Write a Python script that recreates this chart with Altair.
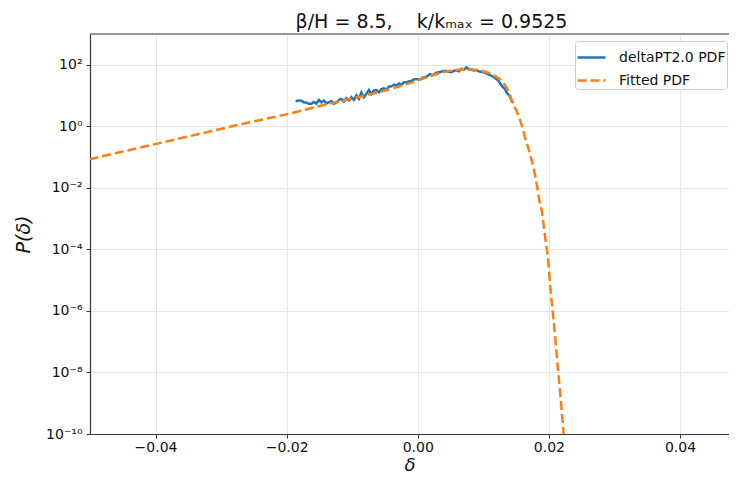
import math
import altair as alt
import pandas as pd

# --- data ---
sim_delta = [-0.01863, -0.01820, -0.01776, -0.01738, -0.01699, -0.01661, -0.01623, -0.01585,
             -0.01547, -0.01508, -0.01470, -0.01432, -0.01394, -0.01356, -0.01318, -0.01280,
             -0.01241, -0.01203, -0.01165, -0.01127, -0.01089, -0.01050, -0.01012, -0.00974,
             -0.00936, -0.00898, -0.00860, -0.00822, -0.00783, -0.00745, -0.00707, -0.00669,
             -0.00631, -0.00592, -0.00554, -0.00516, -0.00478, -0.00440, -0.00402, -0.00363,
             -0.00325, -0.00287, -0.00249, -0.00211, -0.00173, -0.00134, -0.00096, -0.00058,
             -0.00020, 0.00031, 0.00082, 0.00133, 0.00183, 0.00234, 0.00285, 0.00336,
             0.00387, 0.00438, 0.00477, 0.00515, 0.00553, 0.00591, 0.00629, 0.00667,
             0.00705, 0.00743, 0.00782, 0.00820, 0.00858, 0.00896, 0.00934, 0.00972,
             0.01023, 0.01073, 0.01125, 0.01176, 0.01214, 0.01252, 0.01290, 0.01328,
             0.01367, 0.01405, 0.01430, 0.01455]
sim_pdf = [6.5, 6.9, 6.8, 6.0, 5.9, 5.4, 5.4, 6.2,
           5.5, 7.2, 6.0, 6.8, 5.6, 6.0, 6.6, 5.4,
           5.9, 7.2, 7.8, 6.4, 8.2, 6.9, 8.8, 7.2,
           10.2, 7.8, 12.6, 8.8, 11.4, 15.2, 11.2, 14.6,
           15.0, 12.8, 16.2, 17.2, 15.6, 19.4, 20.0, 22.5,
           21.5, 24.6, 22.4, 26.8, 27.2, 28.6, 29.9, 33.5,
           34.0, 33.0, 38.5, 40.5, 49.5, 46.5, 55.5, 58.0,
           61.5, 63.0, 59.0, 57.0, 64.5, 66.0, 61.5, 74.0,
           69.5, 82.0, 71.0, 69.0, 65.0, 67.0, 61.0, 59.0,
           55.5, 49.0, 44.0, 37.5, 32.5, 26.0, 19.5, 16.5,
           11.5, 9.6, 6.8, 5.8]

fit_delta = [-0.05008, -0.04092, -0.03328, -0.02565, -0.01954, -0.01450, -0.00931, -0.00427,
             0.00000, 0.00336, 0.00565, 0.00718, 0.00870, 0.01023, 0.01176, 0.01298,
             0.01374, 0.01450, 0.01527, 0.01588, 0.01634, 0.01710, 0.01760, 0.01812,
             0.01855, 0.01893, 0.01939, 0.01989, 0.02026, 0.02066, 0.02107, 0.02142,
             0.02179, 0.02218, 0.02244]
fit_pdf = [0.0851, 0.240, 0.570, 1.35, 2.59, 4.82, 8.65, 16.1,
           31.0, 53.7, 66.8, 71.9, 69.3, 60.0, 43.2, 26.9,
           15.0, 5.78, 2.45, 1.05, 0.448, 0.132, 0.0499, 0.0147,
           3.86e-3, 1.73e-3, 2.99e-4, 4.26e-5, 4.74e-6, 6.79e-7, 7.57e-8, 1.08e-8,
           1.53e-9, 1.52e-10, 3.10e-11]

series_names = ["deltaPT2.0 PDF", "Fitted PDF"]
x_ticks = [-0.04, -0.02, 0.0, 0.02, 0.04]
y_ticks = [1e-10, 1e-8, 1e-6, 1e-4, 1e-2, 1e0, 1e2]
y_tick_labels = ["10⁻¹⁰", "10⁻⁸", "10⁻⁶", "10⁻⁴", "10⁻²", "10⁰", "10²"]

sim_df = pd.DataFrame({"delta": sim_delta, "pdf": sim_pdf, "series": series_names[0]})
fit_df = pd.DataFrame({"delta": fit_delta, "pdf": fit_pdf, "series": series_names[1]})

# label expression for log ticks
expr = "''"
for v, lab in reversed(list(zip(y_ticks, y_tick_labels))):
    expr = f"(abs(log(datum.value)/LN10 - ({round(math.log10(v))})) < 0.01 ? '{lab}' : {expr})"

FONT = "DejaVu Sans"

x_enc = alt.X("delta:Q",
              scale=alt.Scale(domain=[-0.05, 0.04748], nice=False, zero=False),
              axis=alt.Axis(values=x_ticks, title="δ",
                            labelExpr="replace(format(datum.value, '.2f'), '-', '−')"))
y_enc = alt.Y("pdf:Q",
              scale=alt.Scale(type="log", domain=[1e-10, 1e3], nice=False),
              axis=alt.Axis(values=y_ticks, title="P(δ)", labelExpr=expr))
legend = alt.Legend(
    title=None, orient="none", legendX=485, legendY=7,
    symbolType="stroke", symbolSize=784, symbolStrokeWidth=2.5,
    labelFontSize=14, labelFont=FONT, labelColor="#111",
    fillColor="white", strokeColor="#cccccc", cornerRadius=3,
    padding=1, rowPadding=-8, labelOffset=12, labelLimit=200,
)
color_enc = alt.Color("series:N",
                      scale=alt.Scale(domain=series_names, range=["#1f77b4", "#ff7f0e"]),
                      legend=legend)
dash_enc = alt.StrokeDash("series:N",
                          scale=alt.Scale(domain=series_names, range=[[1, 0], [9, 4]]),
                          legend=legend)

sim_line = alt.Chart(sim_df).mark_line(strokeWidth=2.5, clip=True).encode(
    x=x_enc, y=y_enc, color=color_enc, strokeDash=dash_enc)
fit_line = alt.Chart(fit_df).mark_line(strokeWidth=2.5, clip=True, interpolate="monotone").encode(
    x=x_enc, y=y_enc, color=color_enc, strokeDash=dash_enc)

top_spine = alt.Chart(pd.DataFrame({"a": [0]})).mark_rule(color="#333333", strokeWidth=1.2).encode(
    y=alt.value(0))

NB = "\u00a0"
chart = alt.layer(sim_line, fit_line, top_spine).properties(
    width=639, height=400,
    autosize=alt.AutoSizeParams(type="none"),
    padding={"left": 82, "top": 26, "right": 0, "bottom": 40},
    title=alt.TitleParams(f"β/H = 8.5,{NB*4}k/kₘₐₓ = 0.9525", font=FONT, fontSize=19,
                          fontWeight="normal", color="#111", offset=1, dx=22),
).configure_view(stroke=None).configure_axis(
    labelFont=FONT, labelFontSize=14, labelColor="#111",
    titleFont=FONT, titleFontSize=19, titleFontWeight="normal", titleColor="#111",
    titleFontStyle="italic",
    domainColor="#333333", domainWidth=1.2, tickColor="#333333", tickSize=4,
    tickWidth=1, gridColor="#e6e6e6", gridWidth=1, labelPadding=4,
).configure_axisY(titlePadding=12).configure_axisX(
    titlePadding=2, labelPadding=2, titleFontSize=18
).configure_legend(labelFontSize=14, labelFont=FONT)

chart.save("out.html", embed_options={"renderer": "svg", "actions": False})
